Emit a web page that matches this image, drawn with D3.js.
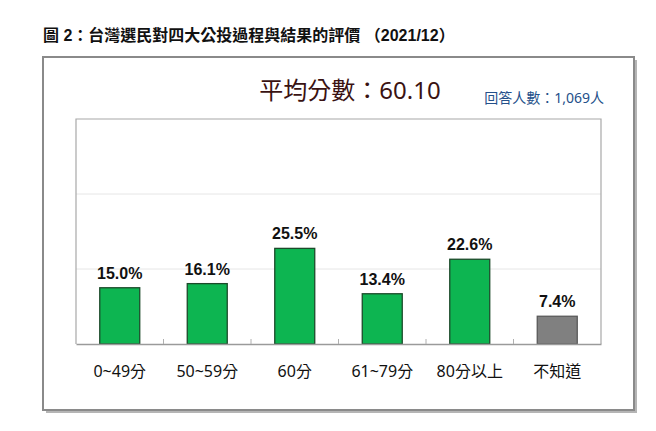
<!DOCTYPE html>
<html>
<head>
<meta charset="utf-8">
<script src="https://cdn.jsdelivr.net/npm/d3@7"></script>
<style>
  html, body { margin: 0; padding: 0; background: #fff; }
  svg { display: block; }
</style>
</head>
<body>
<svg id="chart" width="656" height="431"></svg>
<script>
// data
const categories = ["0~49分", "50~59分", "60分", "61~79分", "80分以上", "不知道"];
const shares = [15.0, 16.1, 25.5, 13.4, 22.6, 7.4];
const barColors = ["#0db551", "#0db551", "#0db551", "#0db551", "#0db551", "#808080"];
const barStrokes = ["#1c4a2a", "#1c4a2a", "#1c4a2a", "#1c4a2a", "#1c4a2a", "#595959"];
const gridTicks = [20, 40];

const titleText = "圖 2：台灣選民對四大公投過程與結果的評價 （2021/12）";
const meanText = "平均分數：60.10";
const countText = "回答人數：1,069人";

const svg = d3.select("#chart");

// title
svg.append("text")
    .attr("x", 43).attr("y", 41)
    .attr("font-family", "'Liberation Sans', 'Noto Sans CJK TC', sans-serif")
    .attr("font-weight", "bold")
    .attr("font-size", "16px")
    .attr("fill", "#111")
    .text(titleText);

// outer frame with a little shadow on right/bottom
svg.append("path")
    .attr("d", "M636,60 V412 H46")
    .attr("fill", "none").attr("stroke", "#b5b5b5").attr("stroke-width", 2);
svg.append("rect")
    .attr("x", 43).attr("y", 57).attr("width", 591).attr("height", 353)
    .attr("fill", "#fff").attr("stroke", "#8a8a8a").attr("stroke-width", 2);

svg.append("text")
    .attr("x", 350).attr("y", 99)
    .attr("text-anchor", "middle")
    .attr("font-family", "'Noto Sans', 'Noto Sans CJK TC', sans-serif")
    .attr("font-size", "24px")
    .attr("fill", "#3a1212")
    .text(meanText);

svg.append("text")
    .attr("x", 604).attr("y", 103)
    .attr("text-anchor", "end")
    .attr("font-family", "'Noto Sans', 'Noto Sans CJK TC', sans-serif")
    .attr("font-size", "14px")
    .attr("fill", "#24508a")
    .text(countText);

// plot area
const plotLeft = 76, plotRight = 601, plotTop = 119, plotBottom = 344;

const x = d3.scaleBand()
    .domain(categories)
    .range([plotLeft, plotRight])
    .paddingInner(0.543)
    .paddingOuter(0.2715);

const y = d3.scaleLinear()
    .domain([0, 60])
    .range([plotBottom, plotTop]);

// gridlines
svg.append("g")
    .selectAll("line")
    .data(gridTicks)
    .join("line")
    .attr("x1", plotLeft).attr("x2", plotRight)
    .attr("y1", d => y(d)).attr("y2", d => y(d))
    .attr("stroke", "#e6e6e6").attr("stroke-width", 1);

// plot border: left, top, right
svg.append("path")
    .attr("d", `M${plotLeft},${plotBottom} V${plotTop} H${plotRight} V${plotBottom}`)
    .attr("fill", "none").attr("stroke", "#a8a8a8").attr("stroke-width", 1.2);

// bars
svg.append("g")
    .selectAll("rect")
    .data(shares)
    .join("rect")
    .attr("x", (d, i) => x(categories[i]))
    .attr("y", d => y(d))
    .attr("width", x.bandwidth())
    .attr("height", d => y(0) - y(d))
    .attr("fill", (d, i) => barColors[i])
    .attr("stroke", (d, i) => barStrokes[i])
    .attr("stroke-width", 1.3);

// value labels
svg.append("g")
    .selectAll("text")
    .data(shares)
    .join("text")
    .attr("x", (d, i) => x(categories[i]) + x.bandwidth() / 2)
    .attr("y", d => y(d) - 9)
    .attr("text-anchor", "middle")
    .attr("font-family", "'Liberation Sans', Arial, sans-serif")
    .attr("font-weight", "bold")
    .attr("font-size", "16px")
    .attr("fill", "#111")
    .text(d => d.toFixed(1) + "%");

// x axis
const xAxis = svg.append("g")
    .attr("transform", `translate(0,${plotBottom})`)
    .call(d3.axisBottom(x).tickSize(0).tickPadding(22));
xAxis.select(".domain").attr("stroke", "#9a9a9a").attr("stroke-width", 1.5);
xAxis.selectAll("text")
    .attr("font-family", "'Noto Sans', 'Noto Sans CJK TC', sans-serif")
    .attr("font-size", "16px")
    .attr("fill", "#111");

// small ticks between categories, pointing up
const gap = x.step() - x.bandwidth();
svg.append("g")
    .selectAll("line")
    .data(categories.slice(1))
    .join("line")
    .attr("x1", d => x(d) - gap / 2)
    .attr("x2", d => x(d) - gap / 2)
    .attr("y1", plotBottom - 5).attr("y2", plotBottom)
    .attr("stroke", "#b0b0b0").attr("stroke-width", 1);
</script>
</body>
</html>
